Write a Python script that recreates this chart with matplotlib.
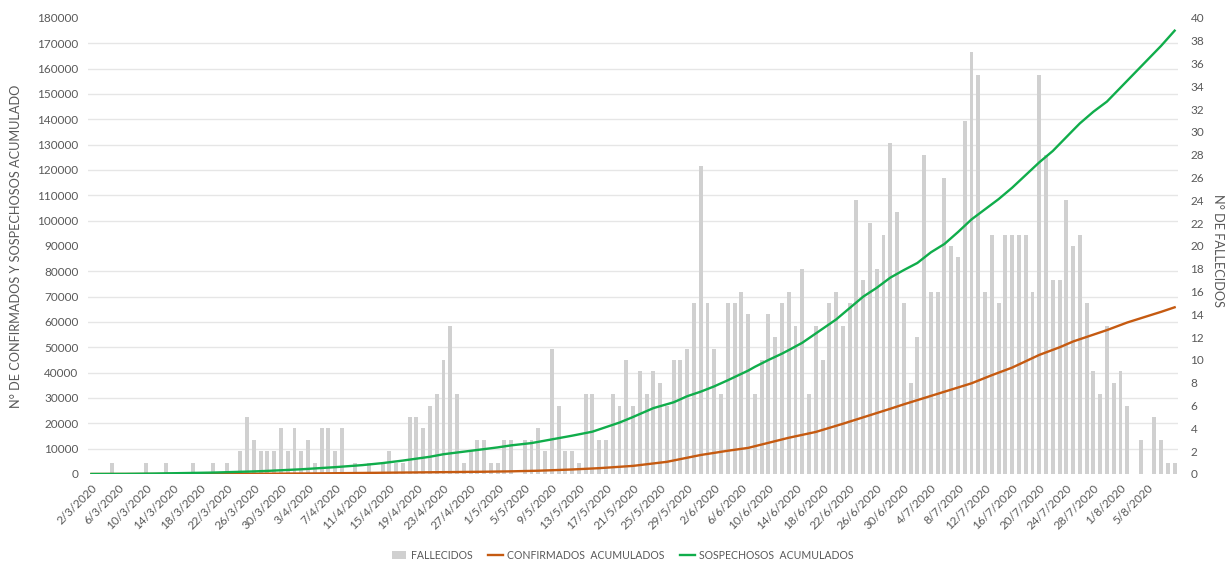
import matplotlib.pyplot as plt
import numpy as np
import pandas as pd
from matplotlib.ticker import FixedLocator

# categories: one per day, 2/3/2020 .. 9/8/2020
dates = pd.date_range('2020-03-02', periods=161, freq='D')
day_labels = [f'{d.day}/{d.month}/{d.year}' for d in dates]

# daily deaths (right axis)
fallecidos = [0, 0, 0, 1, 0, 0, 0, 0, 1, 0, 0, 1, 0, 0, 0, 1, 0, 0, 1, 0, 1, 0,
              2, 5, 3, 2, 2, 2, 4, 2, 4, 2, 3, 1, 4, 4, 2, 4,
              0, 1, 0, 1, 0, 1, 2, 1, 1, 5, 5, 4, 6, 7, 10, 13,
              7, 1, 2, 3, 3, 1, 1, 3, 3, 0, 3, 3, 4, 2,
              11, 6, 2, 2, 1, 7, 7, 3, 3, 7, 6, 10, 6, 9, 7, 9, 8, 6, 10, 10, 11, 15,
              27, 15, 11, 7, 15, 15, 16, 14, 7, 10, 14, 12, 15, 16, 13,
              18, 7, 13, 10, 15, 16, 13, 15, 24, 17, 22, 18, 21,
              29, 23, 15, 8, 12, 28, 16, 16, 26, 20, 19, 31, 37,
              35, 16, 21, 15, 21, 21, 21, 21, 16, 35,
              28, 17, 17, 24, 20, 21, 15, 9, 7, 13, 8, 9, 6, 0, 3, 0, 5, 3, 1, 1]

# accumulated confirmed (left axis)
confirmados = [0, 0, 0, 0, 0, 5, 10, 12, 15, 18,
               20, 24, 28, 32, 36, 40, 44, 48, 52, 56,
               60, 70, 80, 90, 100, 110, 120, 130, 140, 145,
               150, 175, 200, 225, 250, 275, 300, 325, 350, 375,
               400, 425, 450, 475, 500, 525, 550, 575, 600, 625,
               650, 680, 710, 740, 770, 800, 830, 860, 890, 920,
               950, 1000, 1050, 1100, 1150, 1200, 1290, 1380, 1470, 1560,
               1650, 1780, 1910, 2040, 2170, 2300, 2480, 2660, 2840, 3020,
               3200, 3520, 3840, 4160, 4480, 4800, 5340, 5880, 6420, 6960,
               7500, 7930, 8370, 8800, 9180, 9550, 9930, 10300, 10970, 11630,
               12300, 12970, 13630, 14300, 14880, 15450, 16030, 16600, 17400, 18200,
               19000, 19830, 20670, 21500, 22330, 23170, 24000, 24880, 25750, 26630,
               27500, 28330, 29170, 30000, 30830, 31670, 32500, 33330, 34150, 34980,
               35800, 36870, 37930, 39000, 40000, 41000, 42000, 43250, 44500, 45750,
               47000, 48000, 49000, 50000, 51150, 52300, 53200, 54100, 55000, 55900,
               56800, 57800, 58800, 59800, 60650, 61500, 62330, 63170, 64000, 64900,
               65800]

# accumulated suspected (left axis)
sospechosos = [0, 0, 0, 10, 20, 40, 60, 90, 120, 160,
               200, 240, 280, 320, 360, 400, 450, 500, 560, 630,
               700, 780, 860, 940, 1020, 1100, 1220, 1340, 1460, 1580,
               1700, 1860, 2020, 2180, 2340, 2500, 2700, 2900, 3100, 3300,
               3500, 3770, 4030, 4300, 4630, 4970, 5300, 5680, 6050, 6430,
               6800, 7300, 7800, 8130, 8470, 8800, 9140, 9480, 9820, 10160,
               10500, 10900, 11300, 11600, 11900, 12200, 12680, 13160, 13640, 14120,
               14600, 15120, 15650, 16170, 16700, 17600, 18500, 19400, 20300, 21400,
               22500, 23670, 24830, 26000, 26770, 27530, 28300, 29500, 30700, 31600,
               32500, 33550, 34600, 35800, 37000, 38270, 39530, 40800, 42300, 43650,
               45000, 46250, 47500, 48900, 50350, 51800, 53650, 55500, 57330, 59170,
               61000, 63250, 65500, 67750, 70000, 71750, 73500, 75500, 77500, 79000,
               80500, 81900, 83300, 85400, 87500, 89150, 90800, 93150, 95500, 98000,
               100500, 102500, 104500, 106500, 108500, 110750, 113000, 115500, 118000, 120500,
               123000, 125250, 127500, 130250, 133000, 135700, 138400, 140700, 143000, 145000,
               147000, 149750, 152500, 155250, 158000, 160750, 163500, 166250, 169000, 172000,
               175000]

plt.rcParams['font.family'] = ['Lato', 'DejaVu Sans']
txt = '#595959'

fig = plt.figure(figsize=(12.28, 5.62), dpi=100)
ax = fig.add_axes([0.0717, 0.1566, 0.8876, 0.8114])
ax2 = ax.twinx()
x = np.arange(len(dates))

ax2.bar(x, fallecidos, width=0.58, color='#d0d0d0', label='FALLECIDOS')
ax.plot(x, confirmados, color='#c55a11', lw=1.7, label='CONFIRMADOS  ACUMULADOS')
ax.plot(x, sospechosos, color='#10ad4b', lw=1.7, label='SOSPECHOSOS  ACUMULADOS')

# lines in front of the bars
ax.set_zorder(2)
ax2.set_zorder(1)
ax.patch.set_visible(False)

ax.set_xlim(-0.5, len(dates) - 0.5)
ax.set_ylim(0, 180000)
ax2.set_ylim(0, 40)
ax.set_yticks(range(0, 180001, 10000))
ax2.set_yticks(range(0, 41, 2))

# horizontal grid follows the left axis, drawn behind the bars
ax2.yaxis.set_minor_locator(FixedLocator(np.arange(0, 180001, 10000) / 4500))
ax2.grid(which='minor', axis='y', color='#e6e6e6', lw=1)
ax2.set_axisbelow(True)

# every 4th day is labelled; the last day (9/8) has no label in the original
ticks = x[::4][:-1]
ax.set_xticks(ticks)
ax.set_xticklabels([day_labels[i] for i in ticks], rotation=45, ha='right',
                   rotation_mode='anchor')

for a in (ax, ax2):
    for s in a.spines.values():
        s.set_visible(False)
    a.tick_params(length=0, labelsize=8.5, colors=txt, which='both')
ax.tick_params(axis='x', pad=6)
ax.tick_params(axis='y', pad=7)
ax2.tick_params(axis='y', pad=9)

ax.set_ylabel('N° DE CONFIRMADOS Y SOSPECHOSOS ACUMULADO', fontsize=9.2, color=txt)
ax.yaxis.set_label_coords(-0.061, 0.5)
ax2.set_ylabel('N° DE FALLECIDOS', fontsize=9.2, color=txt, rotation=270, va='center')
ax2.yaxis.set_label_coords(1.037, 0.49)

h1, l1 = ax2.get_legend_handles_labels()
h2, l2 = ax.get_legend_handles_labels()
fig.legend(h1 + h2, l1 + l2, loc='center', bbox_to_anchor=(0.507, 0.012), ncol=3,
           frameon=False, fontsize=7.6, labelcolor=txt, handlelength=1.4,
           handleheight=0.8, columnspacing=1.5, handletextpad=0.4)

fig.savefig('out.png', dpi=100)
